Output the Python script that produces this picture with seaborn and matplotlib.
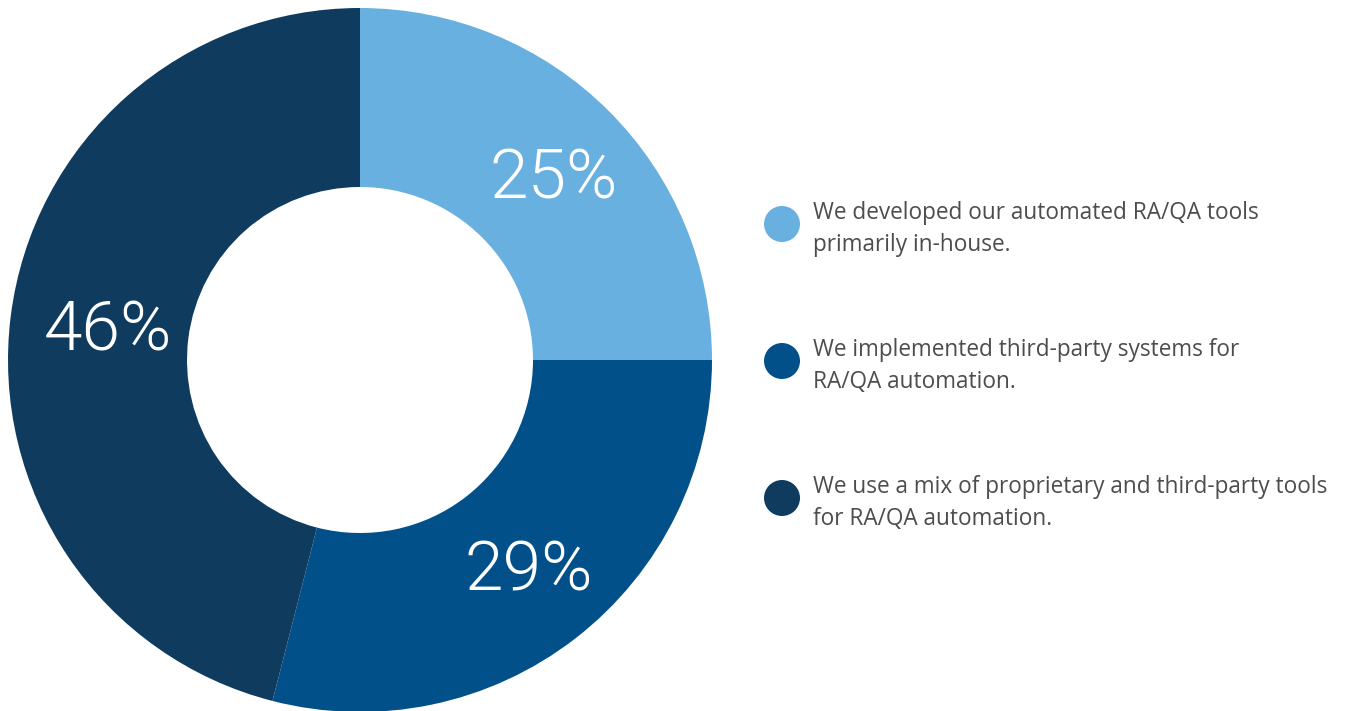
import numpy as np
import matplotlib
matplotlib.use("Agg")
import matplotlib.pyplot as plt
import seaborn as sns

# Survey shares for each approach to RA/QA automation tooling
categories = [
    "We developed our automated RA/QA tools\nprimarily in-house.",
    "We implemented third-party systems for\nRA/QA automation.",
    "We use a mix of proprietary and third-party tools\nfor RA/QA automation.",
]
shares = [25, 29, 46]
colors = ["#68B0E0", "#02508A", "#0F3B5F"]

sns.set_theme(style="white")
plt.rcParams["font.family"] = ["Open Sans", "DejaVu Sans"]

W, H = 1352, 711
fig = plt.figure(figsize=(W / 100, H / 100), dpi=100)
ax = fig.add_axes([0, 0, 1, 1])

cx, cy = 360, H - 360
r_out, r_in = 352, 173
wedges, _ = ax.pie(
    shares,
    colors=colors,
    startangle=90,
    counterclock=False,
    center=(cx, cy),
    radius=r_out,
    wedgeprops=dict(width=r_out - r_in, linewidth=0),
    frame=True,
)
ax.set_xlim(0, W)
ax.set_ylim(0, H)
ax.set_aspect("equal")
ax.axis("off")

# Percentage labels near the middle of each ring segment
r_lab = 262
for w, v in zip(wedges, shares):
    mid = np.deg2rad((w.theta1 + w.theta2) / 2)
    x = cx + r_lab * np.cos(mid) + 8
    y = cy + r_lab * np.sin(mid) - 5
    ax.text(x, y, f"{v}%", color="white", fontsize=50, fontweight=300,
            family=["Roboto", "DejaVu Sans"], ha="center", va="center")

# Legend: colored dots with wrapped descriptions
legend_y = [224, 361, 498]
for c, label, yy in zip(colors, categories, legend_y):
    ax.add_patch(plt.Circle((782, H - yy), 18, color=c, lw=0))
    ax.text(813, H - yy - 5, label, color="#4D4D4D", fontsize=16.3,
            ha="left", va="center", linespacing=1.42)

fig.savefig("out.png", dpi=100)
